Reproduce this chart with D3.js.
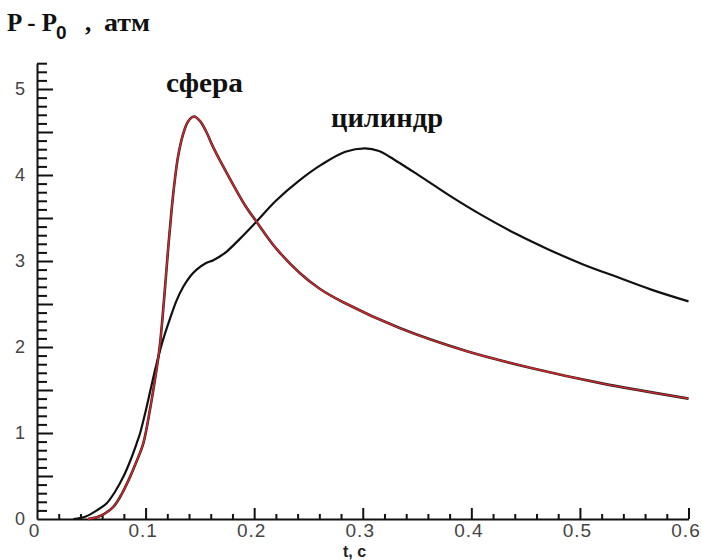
<!DOCTYPE html>
<html>
<head>
<meta charset="utf-8">
<script src="https://cdn.jsdelivr.net/npm/d3@7"></script>
</head>
<body style="margin:0">
<svg id="chart" width="702" height="560"></svg>
<script>
// ---- data ----
const sphereT = [0.047, 0.055, 0.062, 0.0703, 0.078, 0.0857, 0.092, 0.0979, 0.104, 0.109, 0.113, 0.117, 0.1205, 0.124, 0.127, 0.130, 0.134, 0.139, 0.1445, 0.150, 0.156, 0.162, 0.1685, 0.181, 0.192, 0.202, 0.220, 0.242, 0.260, 0.282, 0.334, 0.396, 0.457, 0.519, 0.600];
const sphereP = [0.00, 0.02, 0.06, 0.14, 0.29, 0.49, 0.68, 0.88, 1.27, 1.65, 2.00, 2.55, 3.10, 3.60, 3.95, 4.22, 4.45, 4.62, 4.68, 4.63, 4.50, 4.33, 4.17, 3.88, 3.64, 3.46, 3.15, 2.86, 2.68, 2.52, 2.22, 1.95, 1.75, 1.58, 1.40];

const cylT = [0.0335, 0.045, 0.055, 0.064, 0.072, 0.0795, 0.086, 0.0918, 0.095, 0.100, 0.1045, 0.110, 0.116, 0.1225, 0.1285, 0.1347, 0.141, 0.147, 0.155, 0.1624, 0.168, 0.1747, 0.187, 0.2023, 0.220, 0.242, 0.262, 0.284, 0.302, 0.315, 0.325, 0.350, 0.380, 0.410, 0.442, 0.470, 0.503, 0.535, 0.565, 0.600];
const cylP = [0.00, 0.03, 0.10, 0.18, 0.32, 0.49, 0.68, 0.88, 1.00, 1.25, 1.50, 1.80, 2.08, 2.33, 2.54, 2.70, 2.82, 2.90, 2.97, 3.01, 3.05, 3.11, 3.26, 3.46, 3.70, 3.94, 4.12, 4.27, 4.31, 4.28, 4.21, 4.01, 3.76, 3.53, 3.31, 3.14, 2.96, 2.81, 2.67, 2.53];

const xTicks = [0, 0.1, 0.2, 0.3, 0.4, 0.5, 0.6];
const xTickLabels = ["0", "0.1", "0.2", "0.3", "0.4", "0.5", "0.6"];
const yTicks = [0, 1, 2, 3, 4, 5];
const yTickLabels = ["0", "1", "2", "3", "4", "5"];
const seriesNames = ["сфера", "цилиндр"];
const yTitle = "атм";
const xTitle = "t, c";

// ---- layout ----
const svg = d3.select("#chart");
const x = d3.scaleLinear().domain([0, 0.6]).range([37, 688.5]);
const y = d3.scaleLinear().domain([0, 5.3]).range([519, 63.2]);

function styleAxis(g) {
  g.select(".domain").attr("stroke", "#111").attr("stroke-width", 2);
  g.selectAll(".tick line").attr("stroke", "#111").attr("stroke-width", 2);
}

// x minor ticks
const xMinor = d3.range(0.02, 0.6001, 0.02).filter(v => Math.abs(v * 10 - Math.round(v * 10)) > 1e-6);
svg.append("g").attr("transform", `translate(0,${y(0)})`)
  .call(d3.axisBottom(x).tickValues(xMinor).tickFormat("").tickSizeInner(-5).tickSizeOuter(0))
  .call(g => { g.select(".domain").remove(); styleAxis(g); });

// x major ticks
svg.append("g").attr("transform", `translate(0,${y(0)})`)
  .call(d3.axisBottom(x).tickValues(xTicks)
    .tickFormat((d, i) => xTickLabels[i]).tickSizeInner(-11).tickSizeOuter(0).tickPadding(5))
  .call(g => {
    styleAxis(g);
    g.attr("font-size", 19).attr("font-family", "Liberation Sans");
    g.selectAll(".tick text").attr("fill", "#444").attr("letter-spacing", 1).attr("dx", -3);
    g.selectAll(".tick").filter(d => d === 0).select("line").remove();
  });

// y minor ticks
const yMinor = d3.range(0.1, 5.3001, 0.1).filter(v => Math.abs(v * 2 - Math.round(v * 2)) > 1e-6);
svg.append("g").attr("transform", `translate(${x(0)},0)`)
  .call(d3.axisLeft(y).tickValues(yMinor).tickFormat("").tickSizeInner(-10).tickSizeOuter(0))
  .call(g => { g.select(".domain").remove(); styleAxis(g); });

// y major ticks (every 0.5), labels at integers
const yMajor = d3.range(0.5, 5.0001, 0.5);
svg.append("g").attr("transform", `translate(${x(0)},0)`)
  .call(d3.axisLeft(y).tickValues([0, ...yMajor])
    .tickFormat(d => { const i = yTicks.indexOf(d); return i >= 0 ? yTickLabels[i] : ""; })
    .tickSizeInner(-16).tickSizeOuter(0).tickPadding(12))
  .call(g => {
    styleAxis(g);
    g.attr("font-size", 18).attr("font-family", "Liberation Sans");
    g.selectAll(".tick text").attr("fill", "#444");
    g.selectAll(".tick").filter(d => d === 0).select("line").remove();
  });

// ---- curves ----
const line = d3.line().x(d => x(d[0])).y(d => y(d[1])).curve(d3.curveCatmullRom.alpha(0.5));
const cyl = cylT.map((t, i) => [t, cylP[i]]);
const sph = sphereT.map((t, i) => [t, sphereP[i]]);

svg.append("path").datum(cyl).attr("d", line)
  .attr("fill", "none").attr("stroke", "#111").attr("stroke-width", 2.2);
svg.append("path").datum(sph).attr("d", line)
  .attr("fill", "none").attr("stroke", "#222").attr("stroke-width", 2.6);
svg.append("path").datum(sph).attr("d", line)
  .attr("fill", "none").attr("stroke", "#d8262a").attr("stroke-width", 1.5);

// ---- text ----
function serifText(px, py, size, str) {
  return svg.append("text").attr("x", px).attr("y", py)
    .style("font-family", "'Liberation Serif'").style("font-weight", "bold")
    .attr("font-size", size).attr("fill", "#111").text(str);
}
serifText(7, 31, 25, "P - P");
svg.append("text").attr("x", 56).attr("y", 39)
  .style("font-family", "'Liberation Sans'").style("font-weight", "bold")
  .attr("font-size", 19).attr("fill", "#111").text("0");
serifText(85, 31, 25, ",");
serifText(104, 31, 25, yTitle).attr("textLength", 46).attr("lengthAdjust", "spacingAndGlyphs");

svg.append("text").attr("x", 343).attr("y", 557)
  .style("font-family", "'Liberation Sans'").style("font-weight", "bold")
  .attr("font-size", 16).attr("fill", "#222").text(xTitle);

serifText(166, 92, 27, seriesNames[0]).attr("textLength", 77).attr("lengthAdjust", "spacingAndGlyphs");
serifText(331, 127, 27, seriesNames[1]).attr("textLength", 112).attr("lengthAdjust", "spacingAndGlyphs");
</script>
</body>
</html>
